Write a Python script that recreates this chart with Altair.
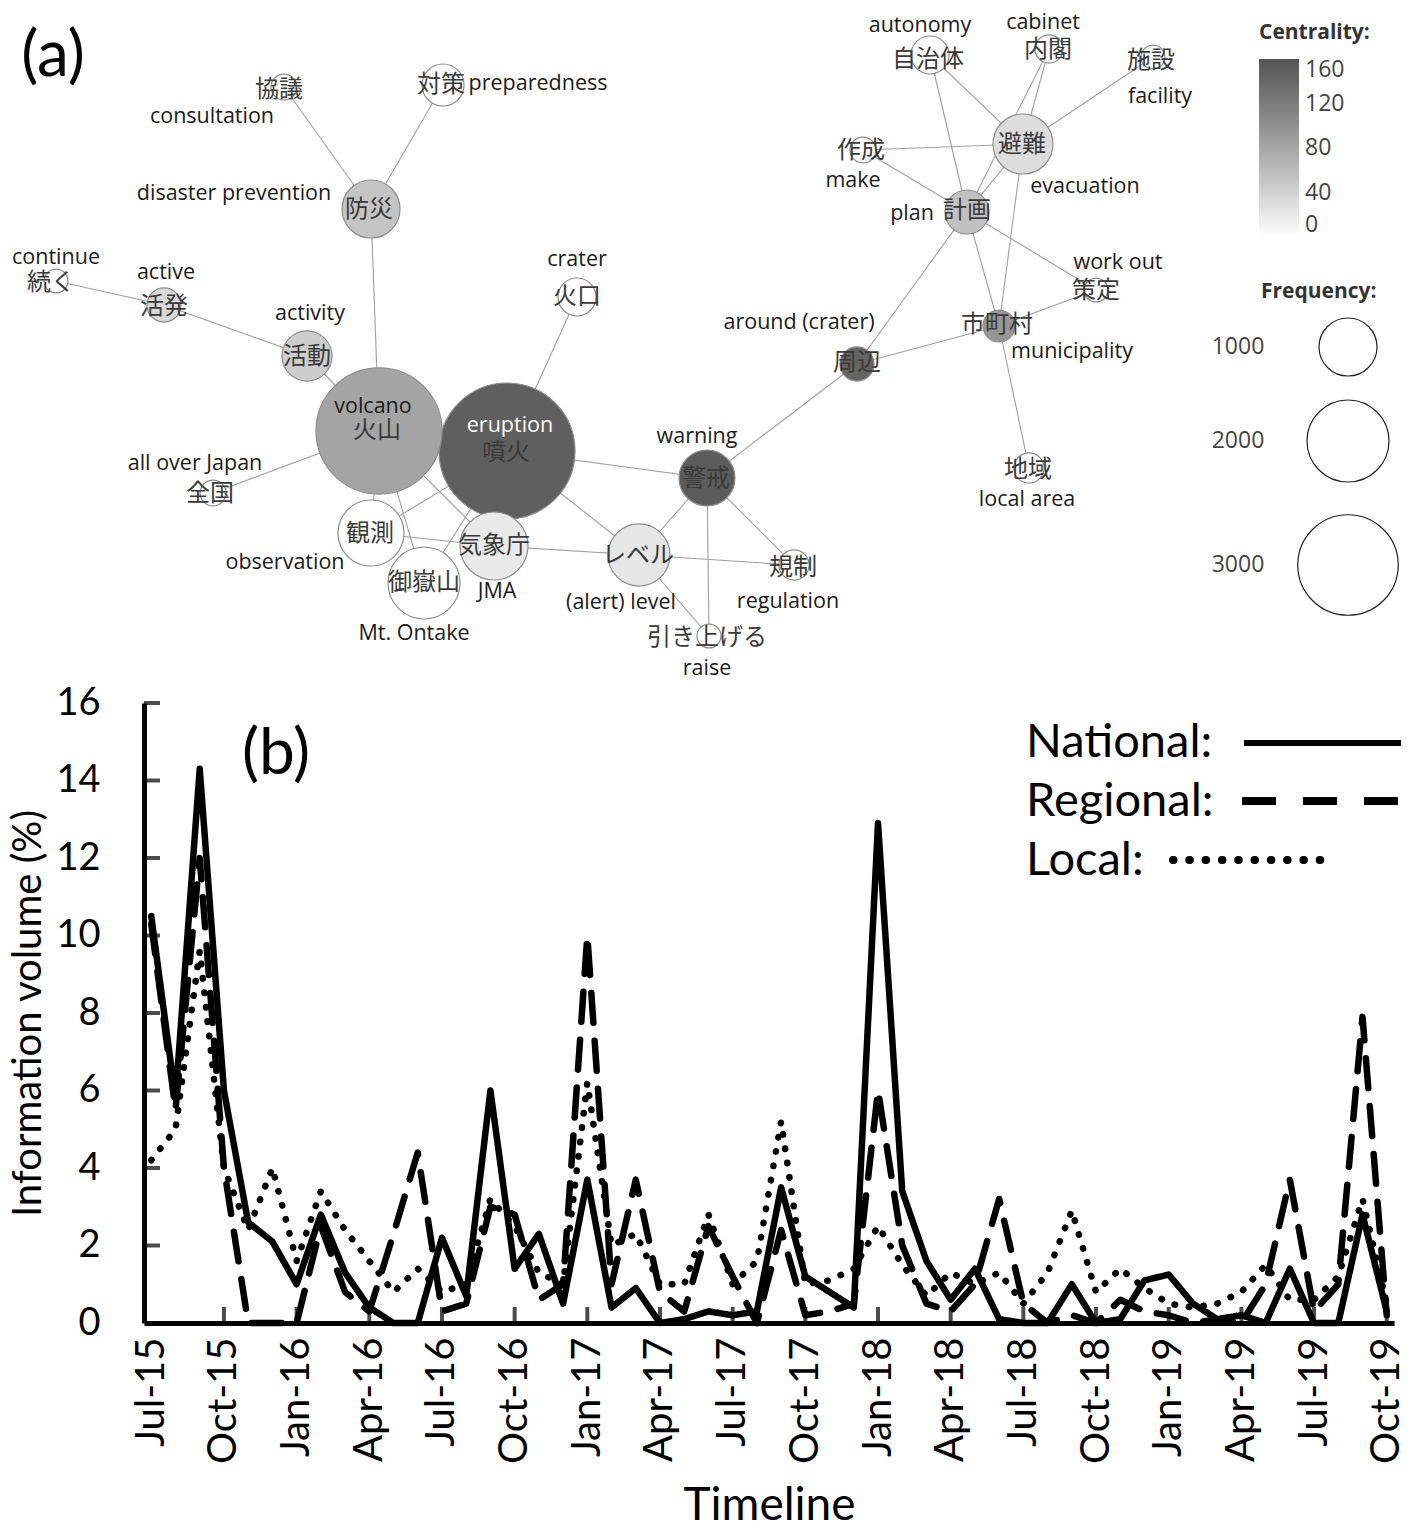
import altair as alt
import pandas as pd

# ---------------- panel (b) data ----------------
months = list(pd.date_range("2015-07-01", periods=52, freq="MS").strftime("%b-%y"))
tick_months = months[::3]
y_ticks = [2, 4, 6, 8, 10, 12, 14, 16]
series_names = ["National", "Regional", "Local"]

national = [10.5, 5.8, 14.3, 6.0, 2.6, 2.1, 1.0, 2.8, 1.3, 0.4,
            0.0, 0.0, 2.2, 0.7, 6.0, 1.4, 2.3, 0.5, 3.7, 0.4,
            0.9, 0.0, 0.1, 0.3, 0.2, 0.3, 3.5, 1.2, 0.8, 0.4,
            12.9, 3.4, 1.6, 0.6, 1.4, 0.1, 0.0, 0.0, 1.0, 0.0,
            0.1, 1.1, 1.25, 0.5, 0.1, 0.2, 0.0, 1.4, 0.0, 0.0,
            2.8, 0.3]
regional = [10.3, 5.5, 12.0, 4.0, 0.0, 0.0, 0.0, 2.5, 0.8, 0.3,
            2.3, 4.4, 0.3, 0.5, 3.0, 2.8, 0.6, 1.0, 10.0, 1.0,
            3.7, 0.8, 0.3, 2.5, 1.2, 0.0, 2.4, 0.2, 0.3, 0.5,
            6.0, 2.0, 0.5, 0.3, 1.0, 3.2, 0.5, 0.0, 0.2, 0.0,
            0.6, 0.3, 0.2, 0.0, 0.1, 0.0, 1.0, 3.7, 0.3, 1.0,
            7.9, 0.2]
local = [4.2, 5.0, 9.6, 4.0, 2.4, 4.0, 1.6, 3.4, 2.4, 1.6,
         0.8, 1.4, 0.8, 1.0, 3.2, 2.5, 1.3, 1.0, 6.2, 2.0,
         2.3, 1.0, 1.0, 2.8, 1.0, 1.6, 5.2, 1.0, 1.1, 1.4,
         2.5, 1.5, 0.7, 1.3, 1.0, 1.3, 0.5, 1.3, 2.9, 0.8,
         1.4, 0.9, 0.5, 0.4, 0.5, 0.8, 1.5, 0.6, 0.6, 1.2,
         3.2, 0.5]

# ---------------- panel (a) data ----------------
jp = ["火山", "噴火", "警戒", "周辺", "市町村", "計画", "避難", "自治体", "内閣", "施設",
      "作成", "策定", "地域", "火口", "防災", "協議", "対策", "活動", "活発", "続く",
      "全国", "観測", "御嶽山", "気象庁", "レベル", "規制", "引き上げる"]
en = ["volcano", "eruption", "warning", "around (crater)", "municipality", "plan", "evacuation",
      "autonomy", "cabinet", "facility", "make", "work out", "local area", "crater",
      "disaster prevention", "consultation", "preparedness", "activity", "active", "continue",
      "all over Japan", "observation", "Mt. Ontake", "JMA", "(alert) level", "regulation", "raise"]
frequency = [4720, 5500, 930, 345, 305, 575, 1070, 430, 235, 170,
             200, 170, 270, 430, 1000, 200, 525, 745, 345, 170,
             200, 1295, 1540, 1375, 1145, 270, 170]
centrality = [82, 150, 153, 144, 95, 55, 31, 0, 0, 0,
              0, 2, 0, 0, 52, 0, 0, 44, 33, 0,
              0, 0, 0, 19, 22, 0, 0]
# network layout (node centres and label anchors)
node_x = [378, 506, 706, 856, 998, 966, 1022, 929, 1048, 1152, 862, 1095, 1028, 576, 370, 283,
          442, 306, 163, 55, 212, 370, 423, 493, 638, 793, 708]
node_y = [418, 438, 465, 351, 313, 199, 131, 42, 36, 44, 137, 277, 455, 284, 196, 74,
          72, 343, 292, 268, 480, 520, 570, 533, 542, 552, 623]
jp_x = [376, 505, 705, 856, 996, 966, 1021, 927, 1047, 1150, 860, 1095, 1027, 576, 368, 278,
        440, 306, 163, 50, 209, 369, 423, 493, 637, 792, 706]
jp_y = [418, 440, 466, 350, 312, 198, 132, 47, 37, 48, 138, 278, 457, 284, 197, 77,
        72, 344, 294, 270, 481, 521, 570, 533, 543, 555, 625]
en_x = [372, 509, 696, 798, 1071, 911, 1084, 919, 1042, 1159, 852, 1117, 1026, 576, 233, 211,
        537, 309, 165, 55, 194, 284, 413, 496, 620, 787, 706]
en_y = [394, 413, 424, 310, 339, 201, 174, 13, 10, 84, 168, 250, 487, 247, 181, 104,
        71, 301, 260, 245, 451, 550, 621, 579, 590, 589, 656]
edges = [("続く", "活発"), ("活発", "活動"), ("活動", "火山"), ("防災", "火山"), ("防災", "協議"),
         ("防災", "対策"), ("火口", "噴火"), ("全国", "火山"), ("火山", "噴火"), ("火山", "観測"),
         ("火山", "御嶽山"), ("火山", "気象庁"), ("噴火", "観測"), ("噴火", "御嶽山"), ("噴火", "気象庁"),
         ("観測", "気象庁"), ("気象庁", "レベル"), ("噴火", "警戒"), ("噴火", "レベル"), ("警戒", "レベル"),
         ("警戒", "規制"), ("警戒", "引き上げる"), ("レベル", "規制"), ("レベル", "引き上げる"), ("警戒", "周辺"),
         ("周辺", "市町村"), ("周辺", "計画"), ("市町村", "計画"), ("市町村", "策定"), ("市町村", "地域"),
         ("市町村", "避難"), ("計画", "策定"), ("計画", "避難"), ("計画", "作成"), ("計画", "自治体"),
         ("計画", "内閣"), ("避難", "作成"), ("避難", "自治体"), ("避難", "内閣"), ("避難", "施設")]
legend_freq = [1000, 2000, 3000]
legend_freq_y = [334, 428, 552]
centrality_ticks = [0, 40, 80, 120, 160]

# ---------------- geometry ----------------
W, H = 1250, 620           # plot area of panel (b)
X0, Y0 = 143, 700          # page position of panel (b) plot origin
NDX, NDY = 0, 10           # shift of panel (a) relative to panel (b)

def ax(x):
    return x - X0

def ay(y):
    return y - Y0

LATO = "Lato"
SANS = "Open Sans"
CJK = "Noto Sans CJK JP"

# ---------------- panel (b) ----------------
rows = []
for name, vals in zip(series_names, [national, regional, local]):
    for i, (m, v) in enumerate(zip(months, vals)):
        rows.append({"month": m, "idx": i, "value": v, "series": name})
line_df = pd.DataFrame(rows)

x_scale = alt.Scale(type="point", domain=months, padding=0.3)
y_scale = alt.Scale(domain=[0, 16], nice=False, zero=True)
x_axis = alt.Axis(values=tick_months, labelAngle=-90, labelFont=LATO, labelFontSize=40,
                  labelColor="black", labelPadding=14, tickSize=0, domainWidth=5,
                  domainColor="black", title="Timeline", titleFont=LATO, titleFontSize=46,
                  titleFontWeight="normal", titleColor="black", titlePadding=20, grid=False)
y_axis = alt.Axis(values=[0] + y_ticks, labelFont=LATO, labelFontSize=38, labelColor="black",
                  labelPadding=44, tickSize=0, domainWidth=5, domainColor="black",
                  title="Information volume (%)", titleFont=LATO, titleFontSize=40,
                  titleFontWeight="normal", titleColor="black", titlePadding=7, grid=False)

lines = alt.Chart(line_df).mark_line(color="black", strokeWidth=6.5, strokeCap="round",
                                     strokeJoin="round").encode(
    x=alt.X("month:O", scale=x_scale, axis=x_axis),
    y=alt.Y("value:Q", scale=y_scale, axis=y_axis),
    strokeDash=alt.StrokeDash("series:N", scale=alt.Scale(domain=series_names,
                              range=[[1, 0], [30, 18], [0.5, 14]]), legend=None),
    order=alt.Order("idx:Q"),
)

ytick_layer = alt.Chart(pd.DataFrame({"value": y_ticks})).mark_tick(
    orient="horizontal", color="black", thickness=4, size=16).encode(
    y=alt.Y("value:Q", scale=y_scale, axis=y_axis),
    x=alt.value(8),
)
xtick_layer = alt.Chart(pd.DataFrame({"month": tick_months[1:]})).mark_tick(
    orient="vertical", color="black", thickness=4, size=16).encode(
    x=alt.X("month:O", scale=x_scale, axis=x_axis),
    y=alt.value(H - 8),
)

one = pd.DataFrame({"t": ["x"]})


def text_at(txt, x, y, size, font=LATO, align="center", weight="normal", color="black"):
    return alt.Chart(pd.DataFrame({"t": [txt]})).mark_text(
        font=font, fontSize=size, align=align, baseline="middle", fontWeight=weight,
        color=color).encode(text="t:N", x=alt.value(x), y=alt.value(y))


def rule_at(x1, x2, y, dash, width, cap):
    return alt.Chart(one).mark_rule(color="black", strokeWidth=width, strokeDash=dash,
                                    strokeCap=cap).encode(
        x=alt.value(x1), x2=alt.value(x2), y=alt.value(y))


legend_b = [
    text_at("(b)", ax(275), ay(752), 64),
    text_at("National:", ax(1025), ay(740), 47, align="left"),
    text_at("Regional:", ax(1025), ay(799), 47, align="left"),
    text_at("Local:", ax(1025), ay(858), 47, align="left"),
    rule_at(ax(1243), ax(1400), ay(740), [1, 0], 6, "butt"),
    rule_at(ax(1241), ax(1397), ay(798), [34, 27], 8, "butt"),
    rule_at(ax(1172), ax(1330), ay(857), [0.5, 15.8], 8, "round"),
]

panel_b = alt.layer(lines, ytick_layer, xtick_layer, *legend_b)

# ---------------- panel (a) ----------------
nodes_df = pd.DataFrame({"jp": jp, "en": en, "freq": frequency, "cent": centrality,
                         "nx": node_x, "ny": node_y, "jx": jp_x, "jy": jp_y,
                         "ex": en_x, "ey": en_y})
pos = {n: (x, y) for n, x, y in zip(jp, node_x, node_y)}
edge_df = pd.DataFrame([{"x": pos[a][0], "y": pos[a][1], "x2": pos[b][0], "y2": pos[b][1]}
                        for a, b in edges])

nx = alt.Scale(domain=[X0 - NDX, X0 - NDX + W], nice=False, zero=False)
ny = alt.Scale(domain=[Y0 - NDY, Y0 - NDY + H], nice=False, zero=False, reverse=True)
size_scale = alt.Scale(domain=[0, 6000], range=[0, 20184], zero=True, nice=False)

edge_layer = alt.Chart(edge_df).mark_rule(color="#a0a0a0", strokeWidth=1.1).encode(
    x=alt.X("x:Q", scale=nx, axis=None), y=alt.Y("y:Q", scale=ny, axis=None),
    x2="x2:Q", y2="y2:Q")

node_layer = alt.Chart(nodes_df).mark_circle(opacity=1, stroke="#8c8c8c", strokeWidth=1.2).encode(
    x=alt.X("nx:Q", scale=nx, axis=None), y=alt.Y("ny:Q", scale=ny, axis=None),
    size=alt.Size("freq:Q", scale=size_scale, legend=None),
    color=alt.Color("cent:Q", scale=alt.Scale(domain=[0, 160], range=["#ffffff", "#555555"]),
                    legend=alt.Legend(orient="none", legendX=ax(1258) + NDX, legendY=ay(9) + NDY,
                                      direction="vertical", gradientLength=178,
                                      gradientThickness=40, gradientStrokeWidth=0,
                                      title="Centrality:", titleFont=SANS, titleFontSize=21,
                                      titleFontWeight="bold", titleColor="#333333",
                                      titlePadding=16, labelFont=SANS, labelFontSize=23,
                                      labelColor="#444444", labelOffset=6,
                                      values=centrality_ticks)),
    order=alt.Order("freq:Q", sort="descending"),
)

jp_layer = alt.Chart(nodes_df).mark_text(font=CJK, fontSize=24, color="#3a3a3a",
                                         baseline="middle").encode(
    x=alt.X("jx:Q", scale=nx, axis=None), y=alt.Y("jy:Q", scale=ny, axis=None), text="jp:N")

en_layer = alt.Chart(nodes_df).mark_text(font=SANS, fontSize=21.5, baseline="middle").encode(
    x=alt.X("ex:Q", scale=nx, axis=None), y=alt.Y("ey:Q", scale=ny, axis=None), text="en:N",
    color=alt.condition(alt.datum.en == "eruption", alt.value("white"), alt.value("#1a1a1a")))

leg_df = pd.DataFrame({"freq": legend_freq, "ly": legend_freq_y,
                       "lab": [str(f) for f in legend_freq]})
leg_circles = alt.Chart(leg_df).mark_circle(opacity=1, fill="white", stroke="#222222",
                                            strokeWidth=1.2).encode(
    x=alt.value(ax(1347) + NDX), y=alt.Y("ly:Q", scale=ny, axis=None),
    size=alt.Size("freq:Q", scale=size_scale, legend=None))
leg_labels = alt.Chart(leg_df).mark_text(font=SANS, fontSize=23, color="#444444",
                                         baseline="middle").encode(
    x=alt.value(ax(1237) + NDX), y=alt.Y("ly:Q", scale=ny, axis=None), text="lab:N")

panel_a_text = [
    text_at("(a)", ax(52) + NDX, ay(44) + NDY, 64, font=LATO),
    text_at("Frequency:", ax(1260) + NDX, ay(279) + NDY, 21, font=SANS, align="left",
            weight="bold", color="#333333"),
]

panel_a = alt.layer(edge_layer, node_layer, jp_layer, en_layer, leg_circles, leg_labels,
                    *panel_a_text)

chart = alt.layer(panel_b, panel_a).resolve_scale(
    x="independent", y="independent", size="independent"
).properties(
    width=W, height=H, padding={"left": 0, "top": 4, "right": 0, "bottom": 0}
).configure_view(stroke=None)

chart.save("out.html", embed_options={"renderer": "svg", "actions": False})
